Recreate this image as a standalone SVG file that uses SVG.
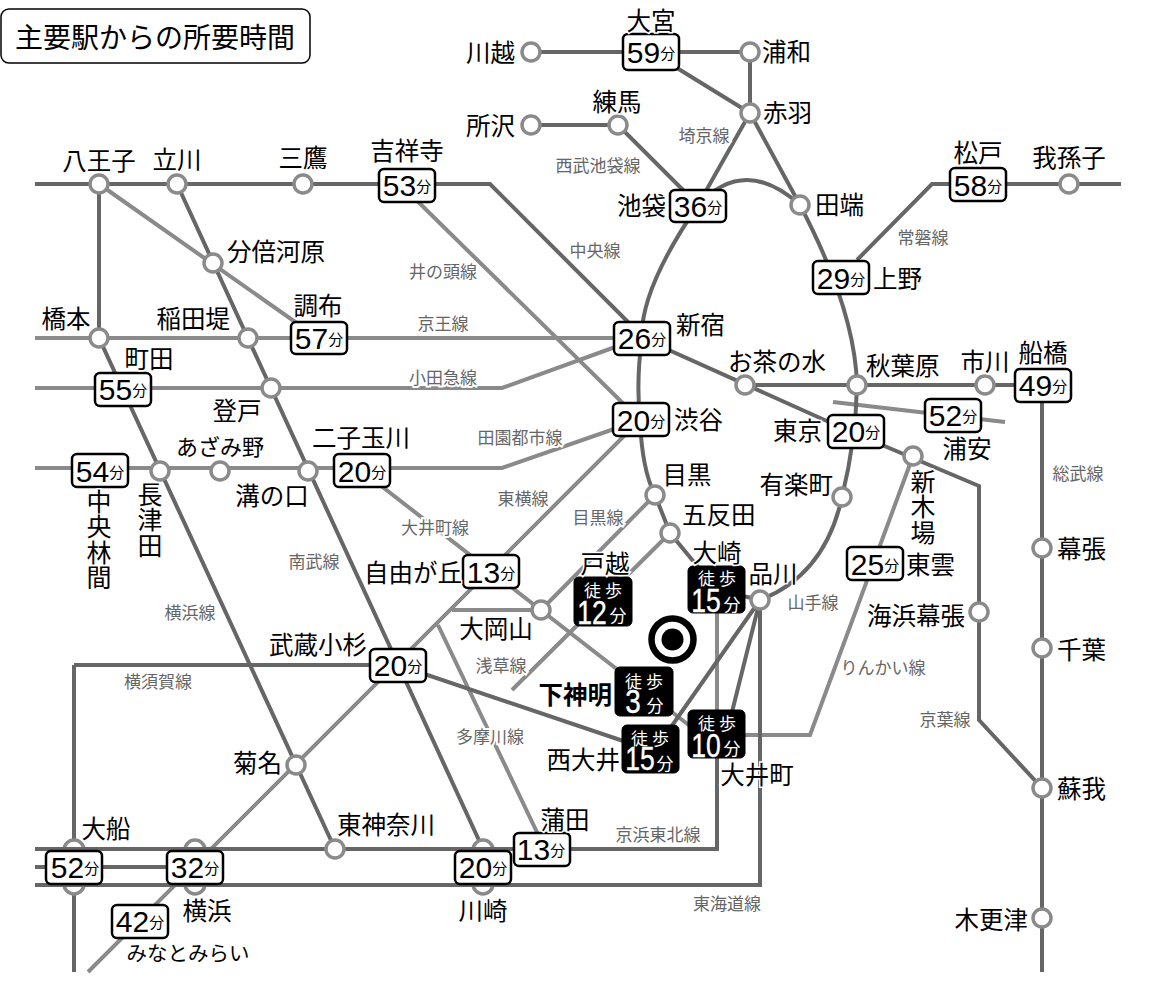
<svg xmlns="http://www.w3.org/2000/svg" width="1149" height="1007" viewBox="0 0 1149 1007">
<style>
text{font-family:"Noto Sans CJK JP","Noto Sans",sans-serif;fill:#000}
.s{font-size:24.5px;dominant-baseline:central;transform:translateY(-2px);stroke:#fff;stroke-width:3px;paint-order:stroke}
.v{font-size:25px;writing-mode:vertical-rl;letter-spacing:.4px;stroke:#fff;stroke-width:3px;paint-order:stroke}
.c{text-anchor:middle}.e{text-anchor:end}
.l{font-size:17px;fill:#666;text-anchor:middle;dominant-baseline:central;stroke:#fff;stroke-width:4px;paint-order:stroke}
.st{fill:#fff;stroke:#8a8a8a;stroke-width:3.5}
.b{fill:#fff;stroke:#000;stroke-width:2.5}
.k{fill:#000;stroke:#000}
.t{font-size:30px;text-anchor:middle;dominant-baseline:central;font-family:"Liberation Sans",Arial,sans-serif}
.t tspan{font-family:"Noto Sans CJK JP",sans-serif;font-size:15px}
.w{fill:#fff;text-anchor:middle;dominant-baseline:central}
.w1{font-size:17px;letter-spacing:4px}
.w2{font-size:34px;font-family:"Liberation Sans",Arial,sans-serif;stroke:#fff;stroke-width:.4px}
.w3{font-size:17px}
.d{fill:none;stroke:#666;stroke-width:4}
.g{fill:none;stroke:#8a8a8a;stroke-width:4}
</style>
<g id="title"><rect x="1" y="9" width="309" height="54" rx="8" fill="#fff" stroke="#000" stroke-width="1.5"/><text x="155" y="36" font-size="28" text-anchor="middle" dominant-baseline="central">主要駅からの所要時間</text></g>
<g id="connectors">
<path class="g" d="M35 338H642M35 388H502L640 338M35 468H502L640 420M99 184L318 338M400 184L640 420M640 420L88 972M362 471L717 747M452 610H541M438 625L545 849M541 610L655 495M512 690L670 533M717 600V740M833 402L1005 422M913 456L810 735H717"/>
<path class="d" d="M35 184H490L644 338M99 184V338L335 849M177 184L483 849M531 52H750V113M651 52L750 113L698 205M750 113L800 205M531 125H618L698 205M857 260L932 184H1121M642 338L849 431L979 486V720L1042 788M745 385H1042V972M74 665V972M74 665H398L650 750M760 600L650 757M760 600L725 740M717 740V849H35M760 600V885H35M35 867H195"/>
<path class="d" d="M760 600Q825 575 842 497Q856 440 857 385Q855 310 800 205Q745 155 698 205Q640 290 642 338Q636 380 640 420Q642 470 655 495L670 533L717 590L760 600"/>
</g>
<g id="n-kawagoe"><circle class="st" cx="531" cy="52" r="9"/><text class="s e" x="515" y="53">川越</text></g>
<g id="n-omiya"><rect class="b" x="623" y="34" width="56" height="36" rx="5"/><text class="t" x="651" y="52">59<tspan>分</tspan></text><text class="s c" x="651" y="21">大宮</text></g>
<g id="n-urawa"><circle class="st" cx="750" cy="52" r="9"/><text class="s" x="762" y="52">浦和</text></g>
<g id="n-akabane"><circle class="st" cx="750" cy="113" r="9"/><text class="s" x="763" y="113">赤羽</text></g>
<g id="n-nerima"><circle class="st" cx="618" cy="125" r="9"/><text class="s c" x="617" y="102">練馬</text></g>
<g id="n-tokorozawa"><circle class="st" cx="531" cy="125" r="9"/><text class="s e" x="515" y="126">所沢</text></g>
<g id="n-hachioji"><circle class="st" cx="99" cy="184" r="9"/><text class="s c" x="99" y="161">八王子</text></g>
<g id="n-tachikawa"><circle class="st" cx="177" cy="184" r="9"/><text class="s c" x="177" y="160">立川</text></g>
<g id="n-mitaka"><circle class="st" cx="303" cy="184" r="9"/><text class="s c" x="303" y="158">三鷹</text></g>
<g id="n-kichijoji"><rect class="b" x="379" y="169" width="56" height="33" rx="5"/><text class="t" x="407" y="185">53<tspan>分</tspan></text><text class="s c" x="407" y="151">吉祥寺</text></g>
<g id="n-ikebukuro"><rect class="b" x="670" y="190" width="56" height="32" rx="5"/><text class="t" x="698" y="206">36<tspan>分</tspan></text><text class="s e" x="666" y="206">池袋</text></g>
<g id="n-tabata"><circle class="st" cx="800" cy="205" r="9"/><text class="s" x="815" y="205">田端</text></g>
<g id="n-matsudo"><rect class="b" x="950" y="168" width="56" height="33" rx="5"/><text class="t" x="978" y="185">58<tspan>分</tspan></text><text class="s c" x="978" y="153">松戸</text></g>
<g id="n-abiko"><circle class="st" cx="1069" cy="184" r="9"/><text class="s c" x="1069" y="158">我孫子</text></g>
<g id="n-bubaigawara"><circle class="st" cx="213" cy="263" r="9"/><text class="s" x="227" y="252">分倍河原</text></g>
<g id="n-ueno"><rect class="b" x="813" y="261" width="56" height="33" rx="5"/><text class="t" x="841" y="278">29<tspan>分</tspan></text><text class="s" x="873" y="279">上野</text></g>
<g id="n-chofu"><rect class="b" x="291" y="322" width="56" height="32" rx="5"/><text class="t" x="319" y="338">57<tspan>分</tspan></text><text class="s c" x="318" y="306">調布</text></g>
<g id="n-hashimoto"><circle class="st" cx="99" cy="338" r="9"/><text class="s c" x="66" y="319">橋本</text></g>
<g id="n-inadazutsumi"><circle class="st" cx="248" cy="338" r="9"/><text class="s e" x="230" y="319">稲田堤</text></g>
<g id="n-shinjuku"><rect class="b" x="614" y="322" width="56" height="33" rx="5"/><text class="t" x="642" y="338">26<tspan>分</tspan></text><text class="s" x="676" y="325">新宿</text></g>
<g id="n-machida"><rect class="b" x="95" y="373" width="56" height="33" rx="5"/><text class="t" x="123" y="389">55<tspan>分</tspan></text><text class="s c" x="149" y="359">町田</text></g>
<g id="n-noborito"><circle class="st" cx="271" cy="388" r="9"/><text class="s c" x="237" y="411">登戸</text></g>
<g id="n-ochanomizu"><circle class="st" cx="745" cy="385" r="9"/><text class="s c" x="777" y="362">お茶の水</text></g>
<g id="n-akihabara"><circle class="st" cx="857" cy="385" r="9"/><text class="s" x="866" y="366">秋葉原</text></g>
<g id="n-ichikawa"><circle class="st" cx="985" cy="385" r="9"/><text class="s c" x="985" y="362">市川</text></g>
<g id="n-funabashi"><rect class="b" x="1015" y="369" width="56" height="33" rx="5"/><text class="t" x="1043" y="385">49<tspan>分</tspan></text><text class="s c" x="1043" y="353">船橋</text></g>
<g id="n-urayasu"><rect class="b" x="925" y="399" width="56" height="33" rx="5"/><text class="t" x="953" y="415">52<tspan>分</tspan></text><text class="s c" x="967" y="449">浦安</text></g>
<g id="n-tokyo"><rect class="b" x="828" y="415" width="56" height="33" rx="5"/><text class="t" x="856" y="431">20<tspan>分</tspan></text><text class="s e" x="822" y="431">東京</text></g>
<g id="n-shibuya"><rect class="b" x="613" y="403" width="56" height="33" rx="5"/><text class="t" x="641" y="420">20<tspan>分</tspan></text><text class="s" x="674" y="420">渋谷</text></g>
<g id="n-shinkiba"><circle class="st" cx="913" cy="456" r="9"/><text class="v" x="923" y="469">新木場</text></g>
<g id="n-futakotamagawa"><rect class="b" x="334" y="454" width="56" height="33" rx="5"/><text class="t" x="362" y="471">20<tspan>分</tspan></text><text class="s c" x="361" y="438">二子玉川</text></g>
<g id="n-azamino"><circle class="st" cx="220" cy="471" r="9"/><text class="s c" x="220" y="447" style="font-size:22px">あざみ野</text></g>
<g id="n-nagatsuta"><circle class="st" cx="160" cy="471" r="9"/><text class="v" x="150" y="482">長津田</text></g>
<g id="n-chuorinkan"><rect class="b" x="72" y="454" width="56" height="33" rx="5"/><text class="t" x="100" y="471">54<tspan>分</tspan></text><text class="v" x="99" y="489">中央林間</text></g>
<g id="n-mizonokuchi"><circle class="st" cx="308" cy="471" r="9"/><text class="s c" x="272" y="496">溝の口</text></g>
<g id="n-meguro"><circle class="st" cx="655" cy="495" r="9"/><text class="s c" x="687" y="475">目黒</text></g>
<g id="n-yurakucho"><circle class="st" cx="842" cy="497" r="9"/><text class="s e" x="833" y="485">有楽町</text></g>
<g id="n-gotanda"><circle class="st" cx="670" cy="533" r="9"/><text class="s" x="682" y="515">五反田</text></g>
<g id="n-jiyugaoka"><rect class="b" x="463" y="555" width="56" height="33" rx="5"/><text class="t" x="491" y="572">13<tspan>分</tspan></text><text class="s e" x="462" y="573">自由が丘</text></g>
<g id="n-shinagawa"><circle class="st" cx="760" cy="600" r="9"/><text class="s c" x="773" y="574">品川</text></g>
<g id="n-osaki"><rect class="k" x="688" y="566" width="57" height="47" rx="5"/><text class="w w1" x="719" y="577">徒歩</text><text class="w w2" transform="translate(706 600) scale(.78 1)">15</text><text class="w w3" x="732" y="603">分</text><text class="s c" x="717" y="553">大崎</text></g>
<g id="n-togoshi"><rect class="k" x="574" y="577" width="58" height="49" rx="5"/><text class="w w1" x="605" y="589">徒歩</text><text class="w w2" transform="translate(592 612) scale(.78 1)">12</text><text class="w w3" x="618" y="614">分</text><text class="s c" x="605" y="564">戸越</text></g>
<g id="n-ookayama"><circle class="st" cx="541" cy="610" r="9"/><text class="s c" x="496" y="629">大岡山</text></g>
<g id="n-shinonome"><rect class="b" x="847" y="547" width="56" height="33" rx="5"/><text class="t" x="875" y="564">25<tspan>分</tspan></text><text class="s" x="906" y="565">東雲</text></g>
<g id="n-kaihimmakuhari"><circle class="st" cx="979" cy="612" r="9"/><text class="s e" x="965" y="616">海浜幕張</text></g>
<g id="n-makuhari"><circle class="st" cx="1042" cy="548" r="9"/><text class="s" x="1057" y="549">幕張</text></g>
<g id="n-chiba"><circle class="st" cx="1042" cy="648" r="9"/><text class="s" x="1057" y="650">千葉</text></g>
<g id="n-soga"><circle class="st" cx="1042" cy="788" r="9"/><text class="s" x="1057" y="789">蘇我</text></g>
<g id="n-kisarazu"><circle class="st" cx="1042" cy="918" r="9"/><text class="s e" x="1028" y="920">木更津</text></g>
<g id="n-musashikosugi"><rect class="b" x="370" y="649" width="56" height="33" rx="5"/><text class="t" x="398" y="665">20<tspan>分</tspan></text><text class="s e" x="367" y="645">武蔵小杉</text></g>
<g id="n-shimoshinmei"><rect class="k" x="615" y="667" width="58" height="49" rx="5"/><text class="w w1" x="646" y="680">徒歩</text><text class="w w2" transform="translate(633 702) scale(.82 1)">3</text><text class="w w3" x="655" y="704">分</text><text class="s e" x="612" y="695" font-weight="700">下神明</text></g>
<g id="n-oimachi"><rect class="k" x="688" y="710" width="57" height="48" rx="5"/><text class="w w1" x="719" y="722">徒歩</text><text class="w w2" transform="translate(706 745) scale(.78 1)">10</text><text class="w w3" x="732" y="747">分</text><text class="s c" x="757" y="775">大井町</text></g>
<g id="n-nishioi"><rect class="k" x="622" y="725" width="57" height="48" rx="5"/><text class="w w1" x="652" y="737">徒歩</text><text class="w w2" transform="translate(640 758) scale(.78 1)">15</text><text class="w w3" x="665" y="762">分</text><text class="s e" x="620" y="760">西大井</text></g>
<g id="n-kikuna"><circle class="st" cx="296" cy="765" r="9"/><text class="s e" x="282" y="763">菊名</text></g>
<g id="n-ofuna"><rect class="st" x="64" y="840" width="20" height="54" rx="10"/><path class="d" d="M50 849H100M50 885H100"/><rect class="b" x="46" y="851" width="56" height="33" rx="5"/><text class="t" x="75" y="867">52<tspan>分</tspan></text><text class="s c" x="106" y="829">大船</text></g>
<g id="n-yokohama"><rect class="st" x="185" y="840" width="20" height="54" rx="10"/><path class="d" d="M170 849H220M170 885H220"/><rect class="b" x="167" y="851" width="56" height="33" rx="5"/><text class="t" x="195" y="867">32<tspan>分</tspan></text><text class="s c" x="207" y="911">横浜</text></g>
<g id="n-higashikanagawa"><circle class="st" cx="335" cy="849" r="9"/><text class="s c" x="386" y="825">東神奈川</text></g>
<g id="n-kawasaki"><rect class="st" x="473" y="840" width="20" height="54" rx="10"/><path class="d" d="M460 849H510M460 885H510"/><rect class="b" x="455" y="851" width="56" height="33" rx="5"/><text class="t" x="483" y="867">20<tspan>分</tspan></text><text class="s c" x="483" y="911">川崎</text></g>
<g id="n-kamata"><rect class="b" x="514" y="833" width="56" height="33" rx="5"/><text class="t" x="541" y="849">13<tspan>分</tspan></text><text class="s c" x="565" y="820">蒲田</text></g>
<g id="n-minatomirai"><rect class="b" x="112" y="905" width="56" height="33" rx="5"/><text class="t" x="140" y="921">42<tspan>分</tspan></text><text class="s c" x="188" y="954" style="font-size:20.5px">みなとみらい</text></g>
<g id="target"><circle cx="672.500" cy="639.500" r="21" fill="#fff" stroke="#000" stroke-width="6.500"/><circle cx="672.500" cy="639.500" r="11" fill="#000"/></g>
<g id="line-labels">
<text class="l" x="704" y="134">埼京線</text><text class="l" x="598" y="164">西武池袋線</text><text class="l" x="595" y="249">中央線</text><text class="l" x="923" y="236">常磐線</text><text class="l" x="443" y="270">井の頭線</text><text class="l" x="443" y="322">京王線</text><text class="l" x="443" y="376">小田急線</text><text class="l" x="520" y="436">田園都市線</text><text class="l" x="523" y="497">東横線</text><text class="l" x="435" y="526">大井町線</text><text class="l" x="598" y="516">目黒線</text><text class="l" x="314" y="560">南武線</text><text class="l" x="190" y="611">横浜線</text><text class="l" x="1078" y="472">総武線</text><text class="l" x="813" y="601">山手線</text><text class="l" x="501" y="664">浅草線</text><text class="l" x="158" y="680">横須賀線</text><text class="l" x="883" y="666">りんかい線</text><text class="l" x="490" y="735">多摩川線</text><text class="l" x="945" y="718">京葉線</text><text class="l" x="658" y="833">京浜東北線</text><text class="l" x="727" y="902">東海道線</text>
</g>
</svg>
